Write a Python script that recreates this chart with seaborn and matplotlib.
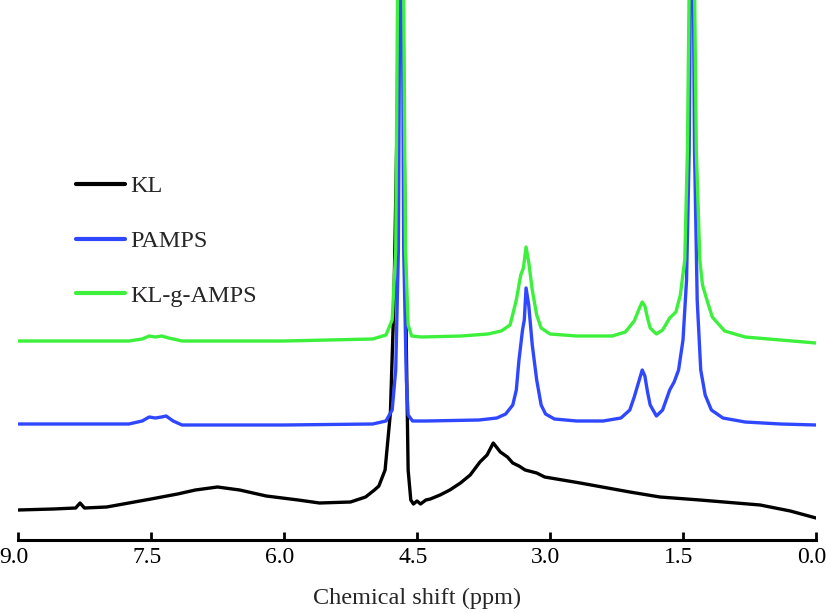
import matplotlib
matplotlib.use('Agg')
import matplotlib.pyplot as plt
import matplotlib.transforms as mtransforms
import pandas as pd
import seaborn as sns

ppm_kl = [9.0, 8.6, 8.35, 8.30, 8.25, 8.0, 7.5, 7.2, 7.0, 6.75, 6.5, 6.2, 5.84, 5.6, 5.25,
          5.08, 4.98, 4.93, 4.86, 4.80, 4.76, 4.72, 4.70, 4.67, 4.65, 4.62, 4.60, 4.57, 4.54,
          4.50, 4.46, 4.40, 4.35, 4.24, 4.13, 4.01, 3.90, 3.79, 3.71, 3.64, 3.56, 3.48, 3.42,
          3.35, 3.28, 3.15, 3.06, 2.66, 2.10, 1.76, 1.31, 0.63, 0.29, 0.0]
int_kl = [0, 1, 2, 7, 2, 3, 11, 16, 20, 23, 20, 14, 10, 7, 8,
          13, 20, 24, 40, 97, 210, 410, 710, 710, 410, 160, 40, 10, 6,
          9, 6, 10, 11, 15, 20, 27, 35, 48, 55, 67, 58, 53, 47,
          44, 40, 37, 33, 27, 18, 13, 10, 5, -1, -8]

ppm_pamps = [9.0, 7.75, 7.6, 7.52, 7.45, 7.38, 7.33, 7.25, 7.15, 6.0, 5.0, 4.85, 4.78, 4.74,
             4.71, 4.69, 4.67, 4.65, 4.62, 4.60, 4.55, 4.4, 3.8, 3.6, 3.5, 3.42, 3.38, 3.35,
             3.31, 3.29, 3.27, 3.24, 3.2, 3.15, 3.1, 3.05, 2.95, 2.7, 2.4, 2.2, 2.1, 2.05,
             2.0, 1.96, 1.93, 1.90, 1.87, 1.8, 1.73, 1.65, 1.6, 1.55, 1.5, 1.46, 1.43, 1.41,
             1.39, 1.37, 1.34, 1.30, 1.25, 1.18, 1.05, 0.8, 0.4, 0.0]
int_pamps = [0, 0, 3, 7, 6, 7, 8, 3, -1, -1, 0, 3, 14, 54,
             174, 524, 524, 174, 44, 9, 3, 3, 4, 6, 10, 19, 34, 64,
             94, 104, 136, 119, 79, 44, 19, 10, 5, 3, 3, 6, 14, 27,
             42, 54, 48, 32, 19, 8, 14, 34, 42, 54, 84, 144, 274, 524,
             524, 274, 124, 54, 29, 14, 6, 2, 0, -1]

ppm_kgamps = [9.0, 7.75, 7.6, 7.52, 7.45, 7.38, 7.3, 7.15, 6.0, 5.0, 4.85, 4.78, 4.74, 4.72,
              4.71, 4.66, 4.65, 4.63, 4.60, 4.56, 4.45, 4.0, 3.7, 3.55, 3.45, 3.38, 3.33, 3.30,
              3.27, 3.24, 3.2, 3.15, 3.1, 3.0, 2.7, 2.3, 2.15, 2.05, 2.0, 1.96, 1.93, 1.90,
              1.87, 1.8, 1.73, 1.65, 1.58, 1.53, 1.48, 1.45, 1.42, 1.38, 1.35, 1.31, 1.28,
              1.23, 1.17, 1.03, 0.8, 0.4, 0.0]
int_kgamps = [0, 0, 2, 5, 4, 5, 3, 0, 0, 2, 6, 21, 91, 341,
              441, 441, 341, 91, 16, 5, 4, 5, 7, 10, 16, 41, 66, 73,
              94, 79, 51, 26, 13, 7, 5, 5, 9, 20, 31, 39, 35, 23,
              13, 7, 11, 23, 29, 46, 81, 191, 441, 441, 191, 81, 56,
              41, 24, 10, 4, 1, -2]

samples = ['KL', 'PAMPS', 'KL-g-AMPS']
offsets = {'KL': 30, 'PAMPS': 116, 'KL-g-AMPS': 199}
colors = {'KL': '#000000', 'PAMPS': '#2f48ff', 'KL-g-AMPS': '#3cf03c'}

frames = []
for name, x, y in zip(samples, [ppm_kl, ppm_pamps, ppm_kgamps], [int_kl, int_pamps, int_kgamps]):
    frames.append(pd.DataFrame({'ppm': x, 'signal': [v + offsets[name] for v in y], 'sample': name}))
df = pd.concat(frames, ignore_index=True)

sns.set_style('white')
plt.rcParams['font.family'] = ['Liberation Serif', 'DejaVu Serif']

fig = plt.figure(figsize=(8.26, 6.13), dpi=100)
ax = fig.add_axes([18 / 826, 73 / 613, 798 / 826, 540 / 613])

sns.lineplot(data=df, x='ppm', y='signal', hue='sample', hue_order=samples,
             palette=colors, estimator=None, linewidth=2.4, ax=ax)

ax.set_xlim(9.0, 0.0)
ax.set_ylim(0, 540)
ax.set_xticks([9.0, 7.5, 6.0, 4.5, 3.0, 1.5, 0.0])
ax.set_xticklabels(['9.0', '7.5', '6.0', '4.5', '3.0', '1.5', '0.0'])
ax.set_yticks([])
ax.set_ylabel('')
ax.set_xlabel('Chemical shift (ppm)', fontsize=17.5, labelpad=14)
for s in ['left', 'right', 'top']:
    ax.spines[s].set_visible(False)
ax.spines['bottom'].set_linewidth(2.2)
ax.spines['bottom'].set_color('black')
ax.tick_params(axis='x', direction='in', length=6, width=2, labelsize=17, pad=5, colors='black')
ax.xaxis.set_tick_params(bottom=True)

# labels sit a little left of their ticks in the original
shift = mtransforms.ScaledTranslation(-0.04, 0, fig.dpi_scale_trans)
for lbl in ax.get_xticklabels():
    lbl.set_transform(lbl.get_transform() + shift)

leg = ax.legend(loc='upper left', bbox_to_anchor=(0.058, 0.698), frameon=False, fontsize=17.5,
                handlelength=2.0, handletextpad=0.2, labelspacing=1.35, borderpad=0)
for h in leg.get_lines():
    h.set_linewidth(3)

fig.savefig('out.png', dpi=100)
